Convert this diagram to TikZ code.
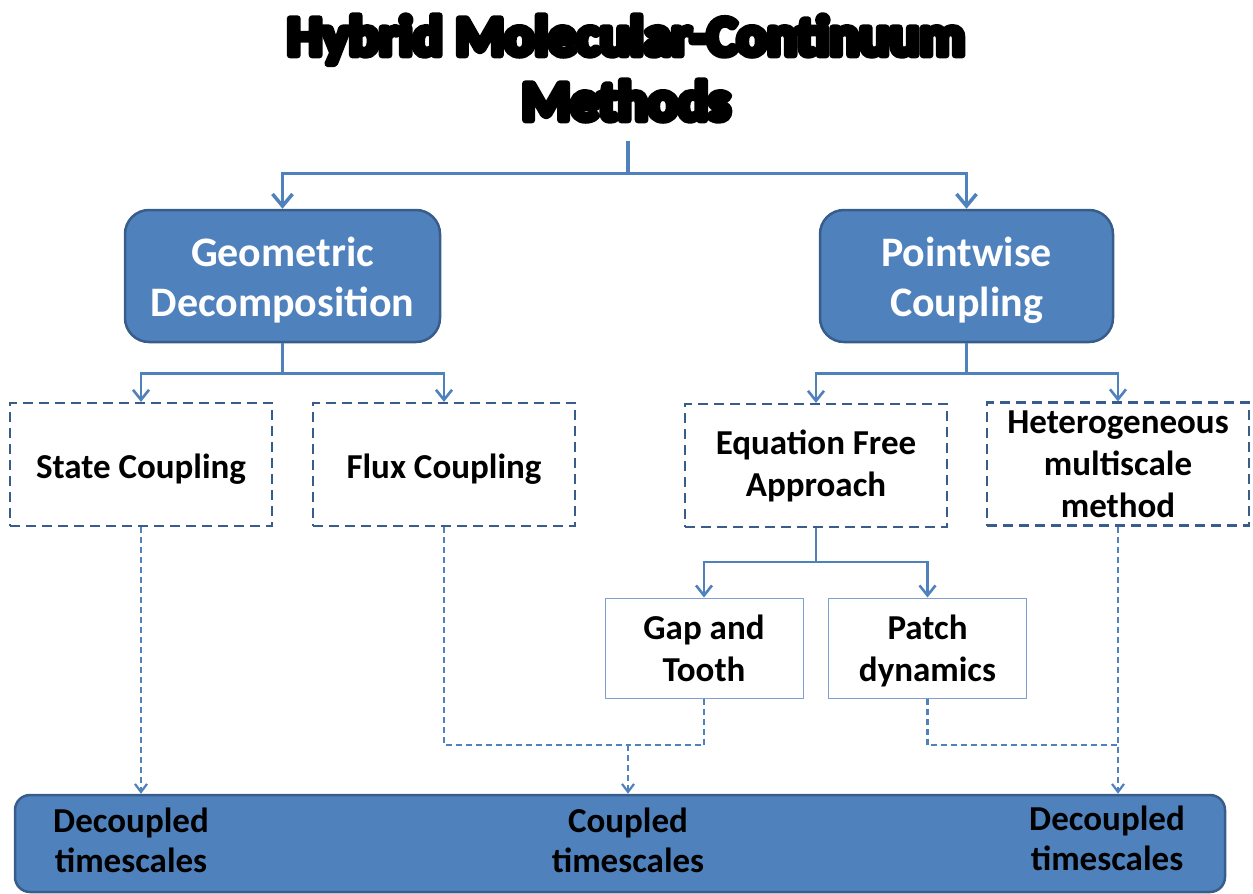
\documentclass[tikz,border=0pt]{standalone}
\usepackage{fontspec}
\setmainfont{Carlito}
\newfontfamily\titlefont[FakeBold=12]{Carlito}
\usetikzlibrary{arrows.meta}
\definecolor{boxblue}{HTML}{4F81BD}
\definecolor{edgeblue}{HTML}{385D8A}
\definecolor{thinblue}{HTML}{7F9FCF}

\begin{document}
\begin{tikzpicture}
  [x=1pt,y=-1pt,
   every node/.style={align=center,inner sep=0pt,font=\bfseries\fontsize{35}{42}\selectfont},
   title/.style={inner ysep=20pt,line join=round,font=\titlefont\bfseries\fontsize{56}{65}\selectfont},
   mainbox/.style={draw=edgeblue,line width=2.5pt,fill=boxblue,rounded corners=24pt,
     minimum height=132pt,text=white,font=\bfseries\fontsize{42}{50}\selectfont},
   subbox/.style={draw=edgeblue,line width=2.2pt,dash pattern=on 10pt off 6pt,
     minimum width=262pt,minimum height=123pt},
   leafbox/.style={draw=thinblue,line width=1pt,minimum width=198pt,minimum height=100pt},
   bar/.style={draw=edgeblue,line width=2.5pt,fill=boxblue,rounded corners=15pt,
     minimum width=1210pt,minimum height=97pt},
   conn/.style={draw=boxblue,line width=3.5pt,-{Straight Barb[length=12pt,width=20pt]}},
   conn2/.style={draw=boxblue,line width=2.6pt,-{Straight Barb[length=10pt,width=16pt]}},
   dline/.style={draw=boxblue,line width=2.2pt,dash pattern=on 6pt off 4pt},
   dconn/.style={dline,-{Straight Barb[length=8pt,width=12pt]}}]
  \useasboundingbox (0,0) rectangle (1253,894);

  \node[title] (title) at (626,68) {Hybrid Molecular-Continuum\\Methods};

  \node[mainbox,minimum width=315pt] (geo) at (282.5,276) {\rule{0pt}{38pt}Geometric\\Decomposition};
  \node[mainbox,minimum width=293pt] (point) at (966.5,276) {\rule{0pt}{38pt}Pointwise\\Coupling};

  \node[subbox] (state) at (141,464.5) {\rule{0pt}{34pt}State Coupling};
  \node[subbox] (flux) at (444,464.5) {\rule{0pt}{34pt}Flux Coupling};
  \node[subbox] (eqfree) at (816,465.5) {Equation Free\\Approach};
  \node[subbox] (hetero) at (1118,464) {Heterogeneous\\multiscale\\method};

  \node[leafbox] (gap) at (704,648) {Gap and\\Tooth};
  \node[leafbox] (patch) at (927.5,648) {\rule{0pt}{30pt}Patch\\dynamics};

  \node[bar] (bar) at (620,843.5) {};
  \node[font=\bfseries\fontsize{35}{40}\selectfont] (lbl1) at (131,840) {Decoupled\\timescales};
  \node[font=\bfseries\fontsize{35}{40}\selectfont] (lbl2) at (628,840) {Coupled\\timescales};
  \node[font=\bfseries\fontsize{35}{40}\selectfont] (lbl3) at (1107,838) {Decoupled\\timescales};

  \coordinate (cmid) at (628,745);
  \coordinate (hmid) at (hetero.south |- cmid);

  \foreach \to in {geo,point}
    \draw[conn] (title.south -| 628,0) -- ++(0,33) -| (\to.north);
  \foreach \from/\to in {geo/state,geo/flux,point/eqfree,point/hetero}
    \draw[conn2] (\from.south) -- ++(0,30) -| (\to.north);
  \foreach \to in {gap,patch}
    \draw[conn2] (eqfree.south) -- ++(0,34) -| (\to.north);

%  dashed links down to the timescale bar
  \draw[dconn] (state.south) -- (state.south |- bar.north);
  \foreach \from in {flux,gap}
    \draw[dline] (\from.south) |- (cmid);
  \draw[dconn] (cmid) -- (cmid |- bar.north);
  \draw[dline] (patch.south) |- (hmid);
  \draw[dconn] (hetero.south) -- (hetero.south |- bar.north);
\end{tikzpicture}
\end{document}
